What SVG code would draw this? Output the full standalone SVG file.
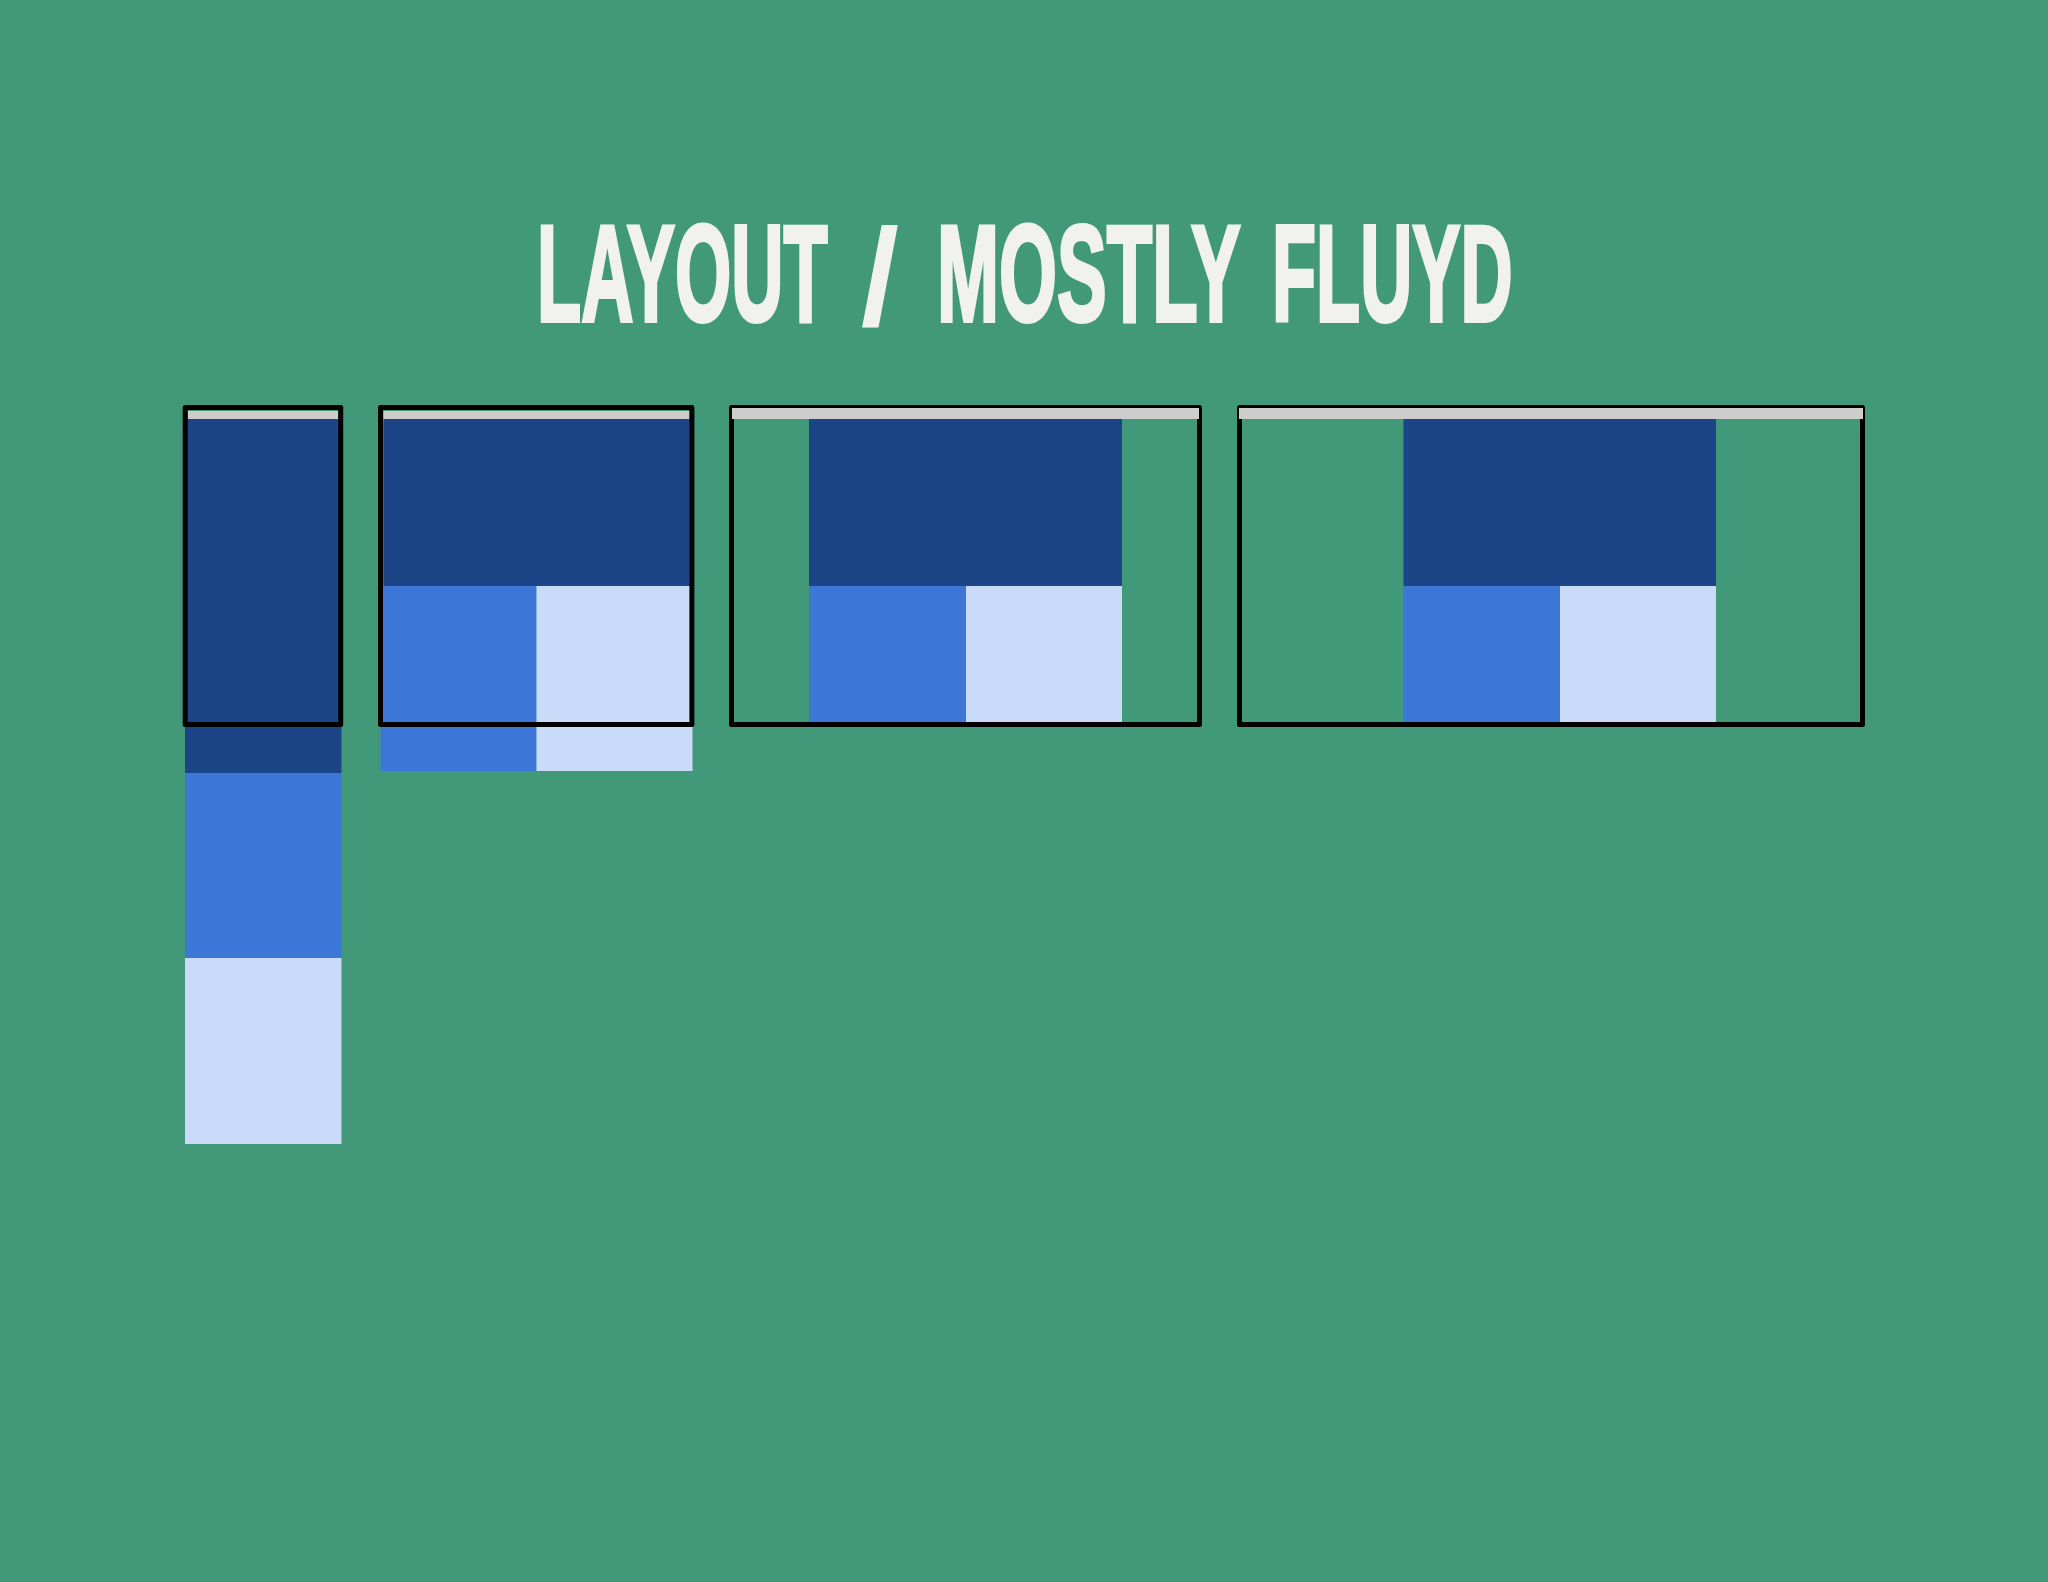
<svg xmlns="http://www.w3.org/2000/svg" width="2048" height="1582" viewBox="0 0 2048 1582">
<style>
.dark{fill:#1B4587}
.mid{fill:#3D78D8}
.light{fill:#C9DBF8}
.bar{fill:#CDCDCD}
.frame{fill:none;stroke:#000;stroke-width:5;stroke-linejoin:round}
.title{font-family:"Liberation Sans",Arial,sans-serif;font-weight:bold;font-size:138px;fill:#F1F1EE;stroke:#F1F1EE;stroke-width:4}
</style>
<rect x="0" y="0" width="2048" height="1582" fill="#41997A"/>
<g id="title">
<text class="title" transform="translate(537,320.5) scale(0.524,1)">LAYOUT</text>
<text class="title" x="880" y="325" text-anchor="middle" style="stroke-width:0">/</text>
<text class="title" transform="translate(937,320.5) scale(0.54,1)">MOSTLY</text>
<text class="title" transform="translate(1272,320.5) scale(0.523,1)">FLUYD</text>
</g>
<g id="layout-phone">
<rect class="dark" x="185" y="419" width="156.5" height="354"/>
<rect class="mid" x="185" y="773" width="156.5" height="185"/>
<rect class="light" x="185" y="958" width="156.5" height="186"/>
<rect class="bar" x="188" y="411" width="150.5" height="8"/>
<rect class="frame" x="185.2" y="407.5" width="155.5" height="317"/>
</g>
<g id="layout-tablet">
<rect class="dark" x="383.5" y="419" width="306" height="167"/>
<rect class="mid" x="380.5" y="586" width="156" height="185"/>
<rect class="light" x="536.5" y="586" width="156" height="185"/>
<rect class="bar" x="383.5" y="411" width="306" height="8"/>
<rect class="frame" x="380.5" y="407.5" width="311.4" height="317"/>
</g>
<g id="layout-desktop">
<rect class="dark" x="809" y="419" width="313" height="167"/>
<rect class="mid" x="809" y="586" width="157" height="137"/>
<rect class="light" x="966" y="586" width="156" height="137"/>
<rect class="frame" x="731.5" y="407.5" width="468" height="317"/>
<rect class="bar" x="732" y="408" width="467" height="11"/>
</g>
<g id="layout-wide">
<rect class="dark" x="1403.5" y="419" width="312.5" height="167"/>
<rect class="mid" x="1403.5" y="586" width="156.5" height="137"/>
<rect class="light" x="1560" y="586" width="156" height="137"/>
<rect class="frame" x="1239.5" y="407.5" width="623" height="317"/>
<rect class="bar" x="1239" y="408" width="624" height="11"/>
</g>
<g id="connectors"/>
</svg>
